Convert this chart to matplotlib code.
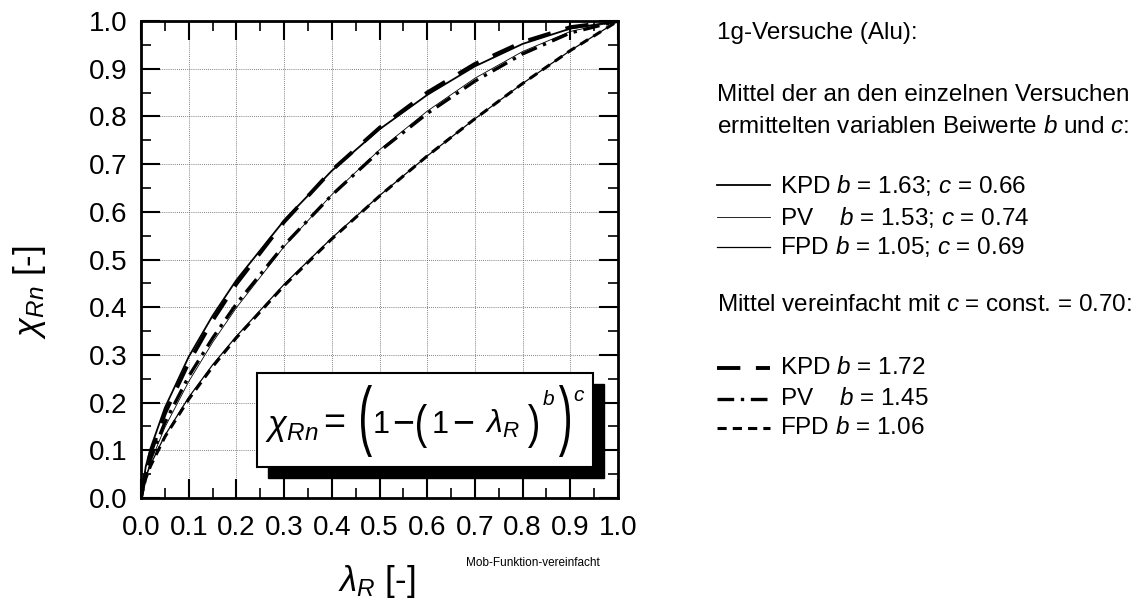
import matplotlib
matplotlib.use('Agg')
import matplotlib.pyplot as plt
from matplotlib.patches import Rectangle, PathPatch
from matplotlib.textpath import TextPath
from matplotlib.font_manager import FontProperties
from matplotlib.transforms import Affine2D
from matplotlib.ticker import MultipleLocator

plt.rcParams['font.family'] = ['Liberation Sans', 'DejaVu Sans']
plt.rcParams['mathtext.fontset'] = 'custom'
plt.rcParams['mathtext.rm'] = 'Liberation Sans'
plt.rcParams['mathtext.it'] = 'Liberation Sans:italic'
plt.rcParams['mathtext.bf'] = 'Liberation Sans:bold'

# lambda_R sample points and chi_Rn values
lam = [0.0, 0.01, 0.02, 0.05, 0.1, 0.15, 0.2, 0.3, 0.4, 0.5, 0.6, 0.7, 0.8, 0.9, 1.0]

# variable b and c
kpd_var = [0.0, 0.066, 0.104, 0.189, 0.296, 0.382, 0.457, 0.582, 0.686, 0.773, 0.845, 0.905, 0.952, 0.984, 1.0]
pv_var = [0.0, 0.045, 0.075, 0.148, 0.244, 0.326, 0.399, 0.527, 0.636, 0.730, 0.811, 0.880, 0.936, 0.978, 1.0]
fpd_var = [0.0, 0.043, 0.070, 0.131, 0.211, 0.279, 0.339, 0.448, 0.545, 0.634, 0.717, 0.795, 0.869, 0.938, 1.0]

# c = const = 0.70
kpd_c = [0.0, 0.058, 0.094, 0.177, 0.284, 0.372, 0.449, 0.579, 0.687, 0.776, 0.850, 0.910, 0.956, 0.987, 1.0]
pv_c = [0.0, 0.052, 0.084, 0.158, 0.255, 0.335, 0.407, 0.530, 0.635, 0.727, 0.806, 0.874, 0.931, 0.975, 1.0]
fpd_c = [0.0, 0.041, 0.067, 0.128, 0.207, 0.275, 0.336, 0.445, 0.543, 0.633, 0.717, 0.795, 0.869, 0.938, 1.0]

ticks = [0.0, 0.1, 0.2, 0.3, 0.4, 0.5, 0.6, 0.7, 0.8, 0.9, 1.0]
tick_labels = ['%.1f' % t for t in ticks]

W, H = 1147, 607
fig = plt.figure(figsize=(W / 100, H / 100), dpi=100)
ax = fig.add_axes([141 / W, 1 - 498 / H, 477 / W, 477 / H])


def px(x, y):
    # pixel position (from top left) -> figure fraction
    return x / W, 1 - y / H


ax.plot(lam, kpd_var, color='k', lw=1.3, zorder=3)
ax.plot(lam, pv_var, color='k', lw=0.6, zorder=3)
ax.plot(lam, fpd_var, color='k', lw=0.9, zorder=3)
ax.plot(lam, kpd_c, color='k', lw=2.8, linestyle=(0, (6, 4)), zorder=3)
ax.plot(lam, pv_c, color='k', lw=2.4, linestyle=(0, (5, 2, 1, 2)), zorder=3)
ax.plot(lam, fpd_c, color='k', lw=2.2, linestyle=(0, (3, 2)), zorder=3)

ax.set_xlim(0, 1)
ax.set_ylim(0, 1)
ax.set_xticks(ticks)
ax.set_xticklabels(tick_labels)
ax.set_yticks(ticks)
ax.set_yticklabels(tick_labels)
ax.xaxis.set_minor_locator(MultipleLocator(0.05))
ax.yaxis.set_minor_locator(MultipleLocator(0.05))
ax.tick_params(which='both', direction='in', top=True, right=True, labelsize=20)
ax.tick_params(which='major', length=14, width=1.5)
ax.tick_params(which='minor', length=7, width=1.2)
ax.tick_params(axis='x', which='major', pad=12)
ax.tick_params(axis='y', which='major', pad=10)
for s in ax.spines.values():
    s.set_linewidth(2)
ax.grid(True, which='major', color='0.35', lw=0.6, linestyle=(0, (1, 1.5)), zorder=1)
ax.set_axisbelow(True)

# formula box with shadow
ax.add_patch(Rectangle((0.266, 0.042), 0.705, 0.197, facecolor='k', edgecolor='k', zorder=5))
ax.add_patch(Rectangle((0.243, 0.065), 0.705, 0.197, facecolor='white', edgecolor='k', lw=1.5, zorder=6))

fsf = 22


def ftext(x, y, s, size=fsf, **kw):
    fig.text(*px(x, y), s, fontsize=size, ha='left', va='baseline', zorder=8, **kw)


def paren(ch, x0, x1, y0, y1):
    # stretched parenthesis glyph fitted into a pixel box
    tp = TextPath((0, 0), ch, size=30, prop=FontProperties(family='Liberation Sans'))
    ext = tp.get_extents()
    sx = (x1 - x0) / ext.width
    sy = (y1 - y0) / ext.height
    tr = Affine2D().translate(-ext.x0, -ext.y0).scale(sx, sy).translate(x0, H - y1)
    fig.add_artist(PathPatch(tp, transform=tr, facecolor='k', edgecolor='none', zorder=8))


ftext(265, 435, r'$\chi_{Rn}$', size=25)
ftext(323, 434, '=', size=27)
paren('(', 361, 372, 385, 457)
ftext(373, 433, '1')
ftext(392, 434, '\u2212', size=27)
paren('(', 417, 427, 404, 448)
ftext(432, 433, '1')
ftext(452, 434, '\u2212', size=27)
ftext(485, 433, r'$\lambda_R$', size=23)
paren(')', 528, 538, 404, 448)
ftext(543, 405, 'b', size=15, fontstyle='italic')
paren(')', 559, 570, 385, 457)
ftext(573, 401, 'c', size=15, fontstyle='italic')

fig.text(*px(29, 292), r'$\chi_{Rn}$ [-]', fontsize=25, rotation=90, ha='center', va='center')
fig.text(*px(377, 582), r'$\lambda_R$ [-]', fontsize=25, ha='center', va='center')
fig.text(*px(533, 563), 'Mob-Funktion-vereinfacht', fontsize=8.5, ha='center', va='center')

# explanation text on the right
fs = 17.5
x0 = 717
fig.text(*px(x0, 33), '1g-Versuche (Alu):', fontsize=fs, va='center')
fig.text(*px(x0, 95), 'Mittel der an den einzelnen Versuchen', fontsize=fs, va='center')
fig.text(*px(x0, 127), 'ermittelten variablen Beiwerte $b$ und $c$:', fontsize=fs, va='center')
fig.text(*px(x0, 305), 'Mittel vereinfacht mit $c$ = const. = 0.70:', fontsize=fs, va='center')

entries = [
    (185, 'KPD $b$ = 1.63; $c$ = 0.66', 1.3, '-'),
    (217, 'PV    $b$ = 1.53; $c$ = 0.74', 0.6, '-'),
    (247, 'FPD $b$ = 1.05; $c$ = 0.69', 0.9, '-'),
    (368, 'KPD $b$ = 1.72', 2.8, (0, (6, 4))),
    (399, 'PV    $b$ = 1.45', 2.4, (0, (5, 2, 1, 2))),
    (428, 'FPD $b$ = 1.06', 2.2, (0, (3, 2))),
]
for ypx, label, lw, ls in entries:
    xa, yy = px(717, ypx)
    xb, _ = px(770, ypx)
    fig.add_artist(plt.Line2D([xa, xb], [yy, yy], color='k', lw=lw, linestyle=ls))
    fig.text(*px(780, ypx), label, fontsize=fs, va='center')

fig.savefig('out.png', dpi=100)
